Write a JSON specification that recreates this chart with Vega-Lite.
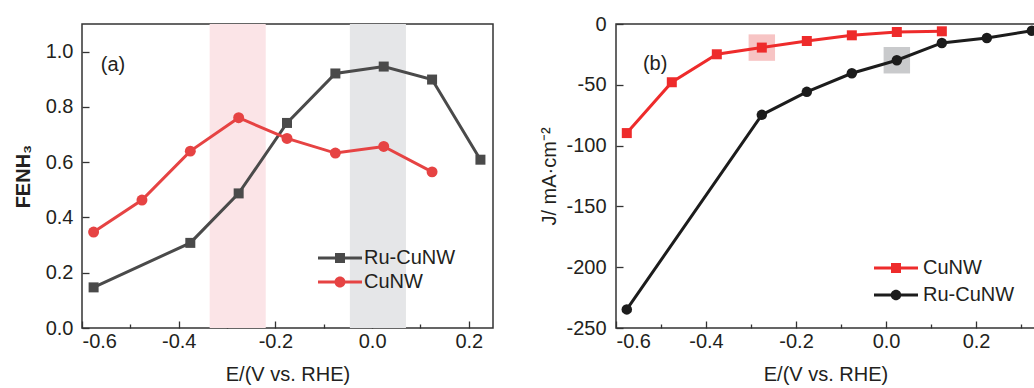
{
  "$schema": "https://vega.github.io/schema/vega-lite/v6.json",
  "padding": {"left": 12, "top": 13, "right": 0, "bottom": 0},
  "bounds": "flush",
  "spacing": 123,
  "resolve": {"scale": {"x": "independent", "y": "independent", "color": "independent", "fill": "independent"}, "legend": {"color": "independent", "fill": "independent"}},
  "config": {
    "font": "Liberation Sans",
    "view": {"stroke": "#333333", "strokeWidth": 1.5},
    "axis": {
      "domain": false, "grid": false,
      "labelFont": "Liberation Sans", "labelFontSize": 20, "labelColor": "#231f20",
      "titleFont": "Liberation Sans", "titleFontSize": 20, "titleFontWeight": "normal", "titleColor": "#231f20",
      "tickColor": "#333333", "tickWidth": 1.3
    },
    "legend": {"labelFont": "Liberation Sans", "labelFontSize": 20, "labelColor": "#231f20", "padding": 0}
  },
  "datasets": {
    "fe": [
      {"E": -0.576, "FE": 0.147, "series": "Ru-CuNW"},
      {"E": -0.376, "FE": 0.308, "series": "Ru-CuNW"},
      {"E": -0.276, "FE": 0.487, "series": "Ru-CuNW"},
      {"E": -0.176, "FE": 0.742, "series": "Ru-CuNW"},
      {"E": -0.076, "FE": 0.921, "series": "Ru-CuNW"},
      {"E": 0.024, "FE": 0.946, "series": "Ru-CuNW"},
      {"E": 0.124, "FE": 0.899, "series": "Ru-CuNW"},
      {"E": 0.224, "FE": 0.609, "series": "Ru-CuNW"},
      {"E": -0.576, "FE": 0.347, "series": "CuNW"},
      {"E": -0.476, "FE": 0.463, "series": "CuNW"},
      {"E": -0.376, "FE": 0.640, "series": "CuNW"},
      {"E": -0.276, "FE": 0.761, "series": "CuNW"},
      {"E": -0.176, "FE": 0.686, "series": "CuNW"},
      {"E": -0.076, "FE": 0.633, "series": "CuNW"},
      {"E": 0.024, "FE": 0.657, "series": "CuNW"},
      {"E": 0.124, "FE": 0.565, "series": "CuNW"}
    ],
    "j": [
      {"E": -0.576, "J": -89.7, "series": "CuNW"},
      {"E": -0.476, "J": -47.9, "series": "CuNW"},
      {"E": -0.376, "J": -24.9, "series": "CuNW"},
      {"E": -0.276, "J": -19.4, "series": "CuNW"},
      {"E": -0.176, "J": -14.0, "series": "CuNW"},
      {"E": -0.076, "J": -9.3, "series": "CuNW"},
      {"E": 0.024, "J": -6.6, "series": "CuNW"},
      {"E": 0.124, "J": -6.0, "series": "CuNW"},
      {"E": -0.576, "J": -234.7, "series": "Ru-CuNW"},
      {"E": -0.276, "J": -74.7, "series": "Ru-CuNW"},
      {"E": -0.176, "J": -55.8, "series": "Ru-CuNW"},
      {"E": -0.076, "J": -40.5, "series": "Ru-CuNW"},
      {"E": 0.024, "J": -29.8, "series": "Ru-CuNW"},
      {"E": 0.124, "J": -15.6, "series": "Ru-CuNW"},
      {"E": 0.224, "J": -11.5, "series": "Ru-CuNW"},
      {"E": 0.324, "J": -5.5, "series": "Ru-CuNW"}
    ],
    "bands": [
      {"region": "CuNW optimum", "start": -0.336, "end": -0.22},
      {"region": "Ru-CuNW optimum", "start": -0.046, "end": 0.07}
    ],
    "hl": [
      {"E": -0.276, "J": -19.4, "region": "CuNW optimum"},
      {"E": 0.024, "J": -29.8, "region": "Ru-CuNW optimum"}
    ]
  },
  "hconcat": [
    {
      "width": 411, "height": 304,
      "layer": [
        {
          "data": {"name": "bands"},
          "mark": {"type": "rect"},
          "encoding": {
            "x": {"field": "start", "type": "quantitative", "title": "E/(V vs. RHE)", "scale": {"domain": [-0.6, 0.25], "nice": false, "zero": false}},
            "x2": {"field": "end"},
            "fill": {"field": "region", "type": "nominal", "scale": {"domain": ["CuNW optimum", "Ru-CuNW optimum"], "range": ["#fbe4e7", "#e5e6e8"]}, "legend": null}
          }
        },
        {
          "data": {"name": "fe"},
          "mark": {"type": "line", "strokeWidth": 3},
          "encoding": {
            "x": {"field": "E", "type": "quantitative", "title": "E/(V vs. RHE)",
              "scale": {"domain": [-0.6, 0.25], "nice": false, "zero": false},
              "axis": {
                "values": [-0.6, -0.5, -0.4, -0.3, -0.2, -0.1, 0, 0.1, 0.2],
                "labelExpr": "round(datum.value*10) % 2 != 0 ? '' : (datum.value < -0.001 ? '-' : '') + format(abs(datum.value), '.1f')",
                "tickSize": {"condition": {"test": "round(datum.value*10) % 2 != 0", "value": -4}, "value": -7},
                "labelPadding": 10, "titlePadding": 13
              }
            },
            "y": {"field": "FE", "type": "quantitative", "title": "FENH₃",
              "scale": {"domain": [0, 1.1], "nice": false, "zero": false},
              "axis": {
                "values": [0, 0.1, 0.2, 0.3, 0.4, 0.5, 0.6, 0.7, 0.8, 0.9, 1.0],
                "labelExpr": "round(datum.value*10) % 2 != 0 ? '' : format(datum.value, '.1f')",
                "tickSize": {"condition": {"test": "round(datum.value*10) % 2 != 0", "value": -4}, "value": -7},
                "labelPadding": 16, "titlePadding": 12, "titleFontWeight": "bold"
              }
            },
            "color": {"field": "series", "type": "nominal",
              "scale": {"domain": ["Ru-CuNW", "CuNW"], "range": ["#4a4a4a", "#e64343"]},
              "legend": {
                "orient": "none", "legendX": 248, "legendY": 224, "title": null,
                "symbolSize": 100, "symbolType": "M-4.4,-0.3H4.4V0.3H-4.4Z", "labelOffset": 14, "rowPadding": 4,
                "encode": {"symbols": {"update": {
                  "shape": {"signal": "datum.value === 'CuNW' ? 'M-4.4,-0.3H4.4V0.3H-4.4Z M-1.1,0A1.1,1.1 0 1,1 1.1,0A1.1,1.1 0 1,1 -1.1,0Z' : 'M-4.4,-0.3H4.4V0.3H-4.4Z M-1,-1H1V1H-1Z'"},
                  "size": {"value": 100},
                  "fill": {"signal": "datum.value === 'CuNW' ? '#e64343' : '#4a4a4a'"},
                  "strokeWidth": {"value": 0}, "opacity": {"value": 1}
                }}}
              }
            }
          }
        },
        {
          "data": {"name": "fe"},
          "transform": [{"filter": "datum.series === 'Ru-CuNW'"}],
          "mark": {"type": "point", "shape": "square", "filled": true, "opacity": 1, "size": 100},
          "encoding": {
            "x": {"field": "E", "type": "quantitative", "title": "E/(V vs. RHE)"},
            "y": {"field": "FE", "type": "quantitative", "title": "FENH₃"},
            "color": {"field": "series", "type": "nominal"}
          }
        },
        {
          "data": {"name": "fe"},
          "transform": [{"filter": "datum.series === 'CuNW'"}],
          "mark": {"type": "point", "shape": "circle", "filled": true, "opacity": 1, "size": 120},
          "encoding": {
            "x": {"field": "E", "type": "quantitative", "title": "E/(V vs. RHE)"},
            "y": {"field": "FE", "type": "quantitative", "title": "FENH₃"},
            "color": {"field": "series", "type": "nominal"}
          }
        },
        {
          "data": {"values": [{"label": "(a)"}]},
          "mark": {"type": "text", "fontSize": 20, "font": "Liberation Sans", "color": "#231f20"},
          "encoding": {
            "x": {"datum": -0.536, "type": "quantitative"},
            "y": {"datum": 0.95, "type": "quantitative"},
            "text": {"field": "label"}
          }
        }
      ]
    },
    {
      "width": 419, "height": 304,
      "layer": [
        {
          "data": {"name": "hl"},
          "mark": {"type": "point", "shape": "square", "filled": true, "opacity": 1, "size": 700},
          "encoding": {
            "x": {"field": "E", "type": "quantitative", "title": "E/(V vs. RHE)", "scale": {"domain": [-0.6, 0.331], "nice": false, "zero": false}},
            "y": {"field": "J", "type": "quantitative", "title": "J/ mA·cm⁻²", "scale": {"domain": [-250, 0], "nice": false, "zero": false}},
            "fill": {"field": "region", "type": "nominal", "scale": {"domain": ["CuNW optimum", "Ru-CuNW optimum"], "range": ["#f7c4c4", "#c9cacc"]}, "legend": null}
          }
        },
        {
          "data": {"name": "j"},
          "mark": {"type": "line", "strokeWidth": 3},
          "encoding": {
            "x": {"field": "E", "type": "quantitative", "title": "E/(V vs. RHE)",
              "scale": {"domain": [-0.6, 0.331], "nice": false, "zero": false},
              "axis": {
                "values": [-0.6, -0.5, -0.4, -0.3, -0.2, -0.1, 0, 0.1, 0.2, 0.3],
                "labelExpr": "round(datum.value*10) % 2 != 0 ? '' : (datum.value < -0.001 ? '-' : '') + format(abs(datum.value), '.1f')",
                "tickSize": {"condition": {"test": "round(datum.value*10) % 2 != 0", "value": -4}, "value": -7},
                "labelPadding": 10, "titlePadding": 13
              }
            },
            "y": {"field": "J", "type": "quantitative", "title": "J/ mA·cm⁻²",
              "scale": {"domain": [-250, 0], "nice": false, "zero": false},
              "axis": {
                "values": [-250, -225, -200, -175, -150, -125, -100, -75, -50, -25, 0],
                "labelExpr": "datum.value % 50 != 0 ? '' : (datum.value < 0 ? '-' : '') + format(abs(datum.value), 'd')",
                "tickSize": {"condition": {"test": "datum.value % 50 != 0", "value": -4}, "value": -7},
                "labelPadding": 17, "titlePadding": 6
              }
            },
            "color": {"field": "series", "type": "nominal",
              "scale": {"domain": ["CuNW", "Ru-CuNW"], "range": ["#ee2b2b", "#1c1c1c"]},
              "legend": {
                "orient": "none", "legendX": 270, "legendY": 234, "title": null,
                "symbolSize": 100, "symbolType": "M-4.4,-0.3H4.4V0.3H-4.4Z", "labelOffset": 17, "rowPadding": 7,
                "encode": {"symbols": {"update": {
                  "shape": {"signal": "datum.value === 'Ru-CuNW' ? 'M-4.4,-0.3H4.4V0.3H-4.4Z M-1.05,0A1.05,1.05 0 1,1 1.05,0A1.05,1.05 0 1,1 -1.05,0Z' : 'M-4.4,-0.3H4.4V0.3H-4.4Z M-1,-1H1V1H-1Z'"},
                  "size": {"value": 100},
                  "fill": {"signal": "datum.value === 'CuNW' ? '#ee2b2b' : '#1c1c1c'"},
                  "strokeWidth": {"value": 0}, "opacity": {"value": 1}
                }}}
              }
            }
          }
        },
        {
          "data": {"name": "j"},
          "transform": [{"filter": "datum.series === 'CuNW'"}],
          "mark": {"type": "point", "shape": "square", "filled": true, "opacity": 1, "size": 100},
          "encoding": {
            "x": {"field": "E", "type": "quantitative", "title": "E/(V vs. RHE)"},
            "y": {"field": "J", "type": "quantitative", "title": "J/ mA·cm⁻²"},
            "color": {"field": "series", "type": "nominal"}
          }
        },
        {
          "data": {"name": "j"},
          "transform": [{"filter": "datum.series === 'Ru-CuNW'"}],
          "mark": {"type": "point", "shape": "circle", "filled": true, "opacity": 1, "size": 110},
          "encoding": {
            "x": {"field": "E", "type": "quantitative", "title": "E/(V vs. RHE)"},
            "y": {"field": "J", "type": "quantitative", "title": "J/ mA·cm⁻²"},
            "color": {"field": "series", "type": "nominal"}
          }
        },
        {
          "data": {"values": [{"label": "(b)"}]},
          "mark": {"type": "text", "fontSize": 20, "font": "Liberation Sans", "color": "#231f20"},
          "encoding": {
            "x": {"datum": -0.513, "type": "quantitative"},
            "y": {"datum": -32.5, "type": "quantitative"},
            "text": {"field": "label"}
          }
        }
      ]
    }
  ]
}
